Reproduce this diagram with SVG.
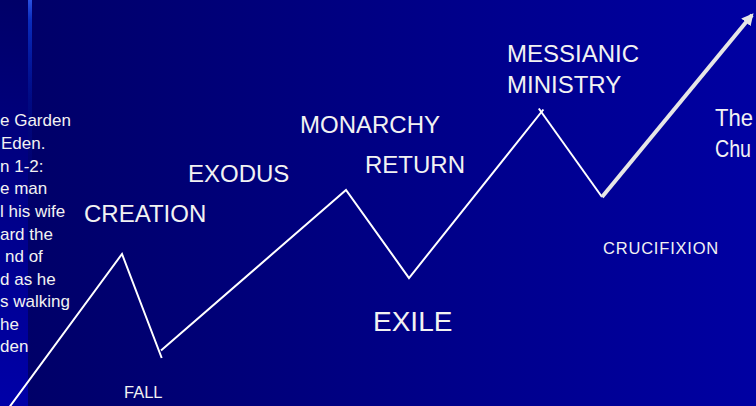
<svg xmlns="http://www.w3.org/2000/svg" width="756" height="406" viewBox="0 0 756 406">
  <defs>
    <linearGradient id="bg" x1="0" y1="0" x2="1" y2="0">
      <stop offset="0" stop-color="#000066"/>
      <stop offset="1" stop-color="#0000a2"/>
    </linearGradient>
    <linearGradient id="strip" x1="0" y1="0" x2="0" y2="1">
      <stop offset="0" stop-color="#000068"/>
      <stop offset="1" stop-color="#0000a8"/>
    </linearGradient>
    <linearGradient id="glow" x1="0" y1="0" x2="0" y2="1">
      <stop offset="0" stop-color="#2a50e0"/>
      <stop offset="0.05" stop-color="#0a2cbc"/>
      <stop offset="0.25" stop-color="#0018a8" stop-opacity="0.4"/>
      <stop offset="0.5" stop-color="#0000a0" stop-opacity="0"/>
    </linearGradient>
    <marker id="ah" viewBox="0 0 10 10" refX="8" refY="5" markerWidth="3" markerHeight="3" orient="auto">
      <path d="M0,0 L10,5 L0,10 z" fill="#e6e6e6"/>
    </marker>
    <style>
      .t { font-family: "Liberation Sans", Arial, sans-serif; fill: #f2f2f2; }
      .big { font-size: 24px; }
      .small { font-size: 16.5px; }
      .eden { font-size: 17px; }
      .line { fill: none; stroke: #ffffff; stroke-width: 2; }
    </style>
  </defs>

  <rect x="0" y="0" width="756" height="406" fill="url(#bg)"/>
  <rect x="0" y="0" width="28" height="406" fill="url(#strip)"/>
  <rect x="28" y="0" width="4" height="406" fill="url(#glow)"/>

  <g id="connectors">
    <polyline class="line" points="8,409 122,254 161.7,358"/>
    <polyline class="line" points="161,350.5 346,190 409,278 543.4,109.5"/>
    <polyline class="line" points="538.8,108.5 602,197"/>
    <line x1="602" y1="197" x2="752" y2="15" stroke="#e6e6e6" stroke-width="4" marker-end="url(#ah)"/>
  </g>

  <g id="eden-text" class="t eden">
    <text x="0" y="126">e Garden</text>
    <text x="1" y="149">Eden.</text>
    <text x="0" y="171.5">n 1-2:</text>
    <text x="0" y="194">e man</text>
    <text x="0" y="217">l his wife</text>
    <text x="0" y="239.5">ard the</text>
    <text x="5" y="262">nd of</text>
    <text x="0" y="284.5">d as he</text>
    <text x="0" y="307">s walking</text>
    <text x="0" y="330">he</text>
    <text x="0" y="352">den</text>
  </g>

  <g id="creation"><text class="t big" x="84" y="222">CREATION</text></g>
  <g id="fall"><text class="t small" x="124" y="398">FALL</text></g>
  <g id="exodus"><text class="t big" x="188" y="182">EXODUS</text></g>
  <g id="monarchy"><text class="t big" x="300" y="133">MONARCHY</text></g>
  <g id="return"><text class="t big" x="365" y="173">RETURN</text></g>
  <g id="exile"><text class="t" style="font-size:28px" x="373" y="331">EXILE</text></g>
  <g id="messianic-ministry">
    <text class="t big" x="507" y="62">MESSIANIC</text>
    <text class="t big" x="507" y="93">MINISTRY</text>
  </g>
  <g id="crucifixion"><text class="t small" x="603" y="254" letter-spacing="0.8">CRUCIFIXION</text></g>
  <g id="church">
    <text class="t big" x="715" y="126" textLength="38" lengthAdjust="spacingAndGlyphs">The</text>
    <text class="t big" x="715" y="157" textLength="36" lengthAdjust="spacingAndGlyphs">Chu</text>
  </g>
</svg>
